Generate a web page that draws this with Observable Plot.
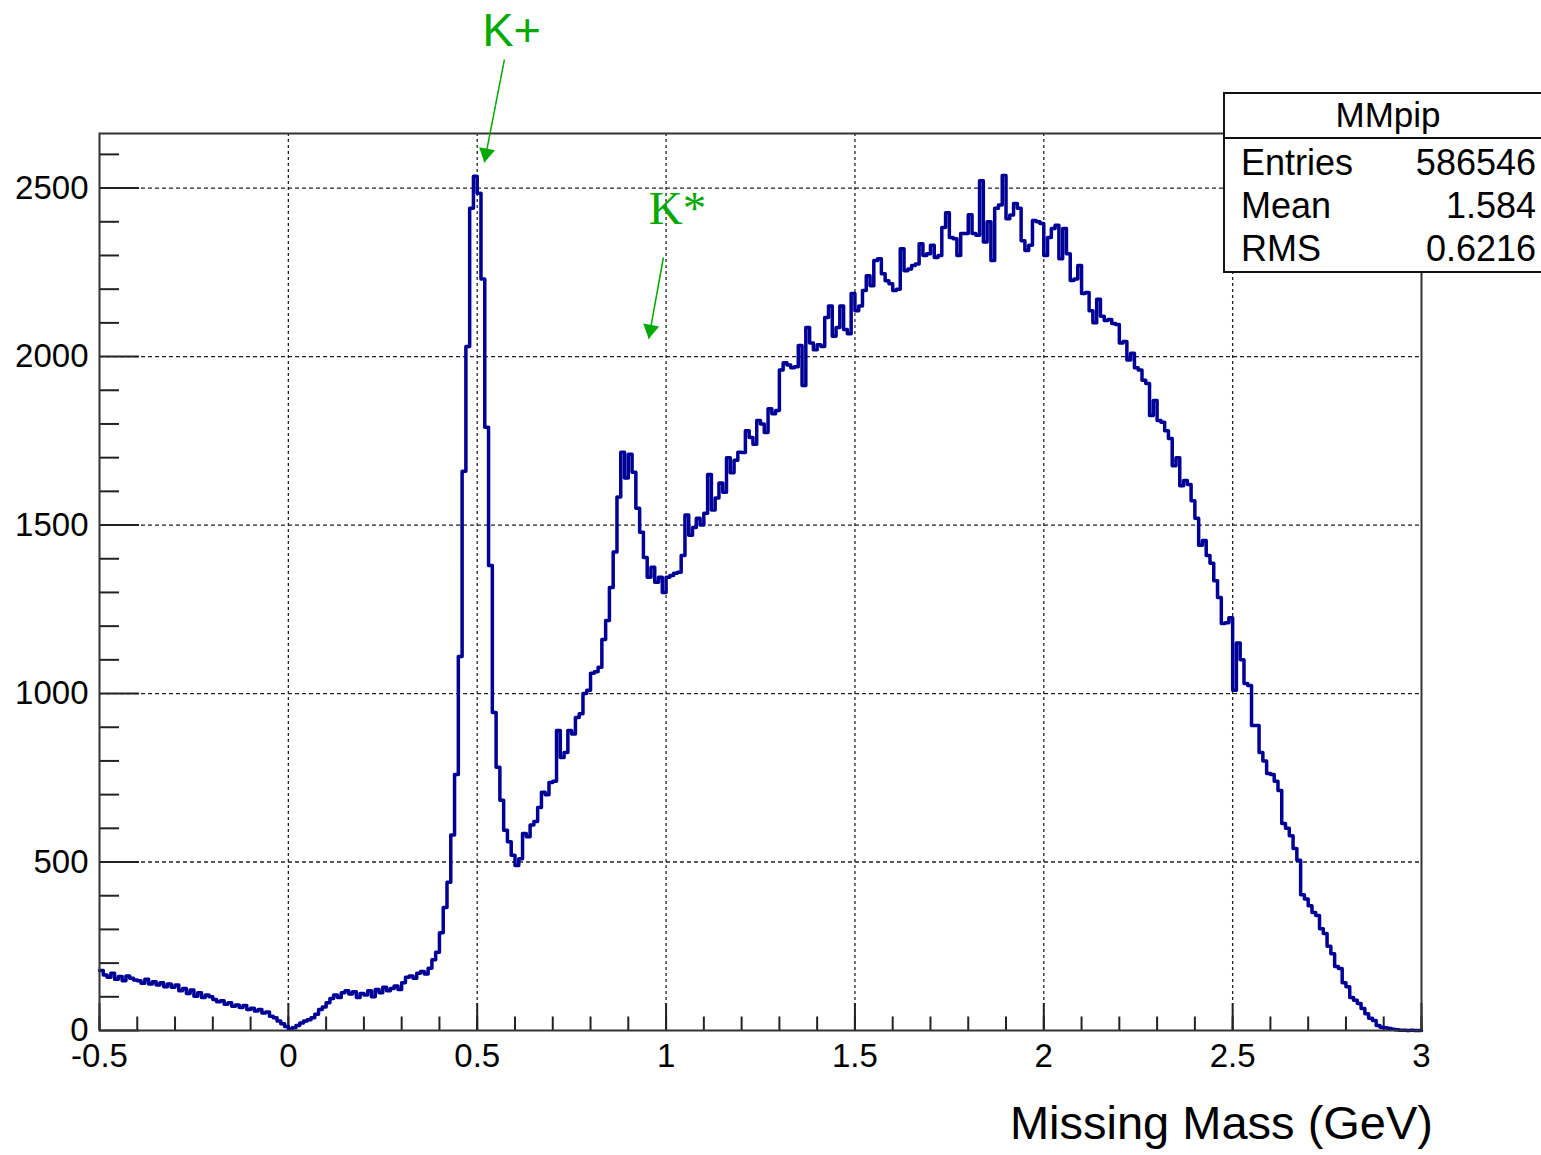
<!DOCTYPE html>
<html><head><meta charset="utf-8">
<script src="https://cdn.jsdelivr.net/npm/d3@7"></script>
<script src="https://cdn.jsdelivr.net/npm/@observablehq/plot@0.6"></script>
<style>
html,body{margin:0;padding:0;background:#fff;overflow:hidden;}
#chart svg{display:block;}
</style></head><body><div id="chart"></div>
<script>
// ---- histogram binning (MMpip: 350 bins from -0.5 to 3.0) ----
const binLow = -0.5;
const binWidth = 0.01;
const counts = [
  178,165,158,170,152,160,148,162,155,150,
  148,140,152,138,145,135,142,130,138,128,
  135,118,125,110,120,102,112,98,105,100,
  92,85,88,78,82,72,76,68,74,62,
  66,58,62,52,55,42,38,28,20,12,
  4,8,15,22,28,32,38,48,62,70,
  82,95,105,98,112,118,108,115,98,110,
  105,118,100,122,112,128,118,125,132,122,
  142,158,162,155,170,175,168,185,210,232,
  290,365,440,580,760,1110,1660,2030,2440,2535,
  2485,2230,1790,1380,944,781,683,594,560,520,
  490,510,585,575,610,620,662,707,700,736,
  740,890,810,825,890,880,929,940,1000,1010,
  1060,1065,1078,1160,1217,1315,1420,1583,1716,1640,
  1710,1657,1550,1479,1404,1345,1375,1330,1345,1300,
  1345,1350,1357,1360,1410,1530,1470,1493,1520,1500,
  1535,1650,1545,1580,1625,1597,1700,1655,1692,1716,
  1715,1780,1760,1740,1810,1800,1775,1845,1830,1840,
  1960,1982,1975,1967,1970,2033,1914,2086,2040,2020,
  2035,2030,2116,2150,2060,2086,2150,2080,2068,2187,
  2136,2150,2196,2240,2210,2285,2290,2246,2225,2216,
  2196,2200,2320,2255,2260,2270,2275,2335,2300,2305,
  2330,2294,2300,2383,2427,2353,2350,2300,2365,2365,
  2421,2365,2360,2522,2340,2400,2285,2440,2450,2537,
  2409,2420,2454,2440,2344,2315,2330,2404,2400,2395,
  2300,2353,2380,2390,2290,2380,2305,2226,2230,2270,
  2187,2190,2136,2100,2170,2120,2107,2110,2098,2095,
  2040,2045,1990,2010,1967,1960,1930,1920,1825,1870,
  1810,1805,1780,1757,1676,1700,1617,1632,1620,1572,
  1520,1440,1454,1410,1387,1335,1285,1208,1210,1225,
  1010,1150,1100,1030,1024,905,905,825,800,763,
  760,740,712,614,600,578,540,505,403,390,
  370,350,341,302,288,250,228,190,184,142,
  130,98,90,80,65,50,36,30,15,10,
  8,6,4,2,1,1,0,1,0,0
];

// ---- axes ----
const xDomain = [-0.5, 3];
const yDomain = [0, 2662];
const xMajorTicks = [-0.5, 0, 0.5, 1, 1.5, 2, 2.5, 3];
const xTickLabels = ["-0.5", "0", "0.5", "1", "1.5", "2", "2.5", "3"];
const xMinorTicks = [-0.5,-0.4,-0.3,-0.2,-0.1,0,0.1,0.2,0.3,0.4,0.5,0.6,0.7,0.8,0.9,1,1.1,1.2,1.3,1.4,1.5,1.6,1.7,1.8,1.9,2,2.1,2.2,2.3,2.4,2.5,2.6,2.7,2.8,2.9,3];
const yMajorTicks = [0, 500, 1000, 1500, 2000, 2500];
const yTickLabels = ["0", "500", "1000", "1500", "2000", "2500"];
const yMinorTicks = [100,200,300,400,600,700,800,900,1100,1200,1300,1400,1600,1700,1800,1900,2100,2200,2300,2400,2600];
const xGrid = [0, 0.5, 1, 1.5, 2, 2.5];
const yGrid = [500, 1000, 1500, 2000, 2500];
const xTitle = "Missing Mass (GeV)";

// ---- annotations (data coordinates) ----
const annLabels = ["K+", "K*"];
const annTextX = [0.591, 1.030];
const annTextY = [2967, 2439];
const annArrowX1 = [0.572, 0.993];
const annArrowY1 = [2881, 2294];
const annArrowX2 = [0.519, 0.954];
const annArrowY2 = [2576, 2053];

// ---- statistics box ----
const statsTitle = "MMpip";
const statsNames = ["Entries", "Mean", "RMS"];
const statsValues = ["586546", "1.584", "0.6216"];

// build tables
const hist = counts.map((c, i) => ({x: Math.round((binLow + i * binWidth) * 1000) / 1000, y: c}));
hist.push({x: xDomain[1], y: counts[counts.length - 1]});
const ann = annLabels.map((l, i) => ({label: l, tx: annTextX[i], ty: annTextY[i],
  x1: annArrowX1[i], y1: annArrowY1[i], x2: annArrowX2[i], y2: annArrowY2[i]}));

const W = 1541, H = 1155;
const mL = 99, mR = 120, mT = 133, mB = 125;
const pxPerX = (W - mL - mR) / (xDomain[1] - xDomain[0]);
const pxPerY = (H - mT - mB) / (yDomain[1] - yDomain[0]);
// tick lengths in pixels converted to data units
const xMinorLen = 13.5 / pxPerY, xMajorLen = 27 / pxPerY;
const yMinorLen = 20 / pxPerX, yMajorLen = 40 / pxPerX;

const green = "#00a900";
// arrowhead rotation from arrow direction (in pixel space)
ann.forEach(a => {
  const dx = (a.x2 - a.x1) * pxPerX, dy = -(a.y2 - a.y1) * pxPerY;
  const len = Math.hypot(dx, dy);
  a.rot = Math.atan2(dx, -dy) * 180 / Math.PI;
  a.ox = -dx / len * 9.3; a.oy = -dy / len * 9.3;
});

const chart = Plot.plot({
  width: W, height: H,
  marginLeft: mL, marginRight: mR, marginTop: mT, marginBottom: mB,
  x: {domain: xDomain},
  y: {domain: yDomain},
  style: {fontFamily: "'Liberation Sans', Arial, Helvetica, sans-serif", fontSize: "33px", color: "#000", background: "#fff", overflow: "visible"},
  marks: [
    Plot.ruleX(xGrid, {stroke: "#222", strokeWidth: 1.3, strokeDasharray: "3,3"}),
    Plot.ruleY(yGrid, {stroke: "#222", strokeWidth: 1.3, strokeDasharray: "4,3"}),
    Plot.ruleX(xMinorTicks, {y1: 0, y2: xMinorLen, stroke: "#222", strokeWidth: 2}),
    Plot.ruleX(xMajorTicks, {y1: 0, y2: xMajorLen, stroke: "#222", strokeWidth: 2}),
    Plot.ruleY(yMinorTicks, {x1: xDomain[0], x2: xDomain[0] + yMinorLen, stroke: "#222", strokeWidth: 2}),
    Plot.ruleY(yMajorTicks, {x1: xDomain[0], x2: xDomain[0] + yMajorLen, stroke: "#222", strokeWidth: 2}),
    Plot.line(hist, {x: "x", y: "y", curve: "step-after", stroke: "#000096", strokeWidth: 3.5}),
    Plot.frame({stroke: "#333", strokeWidth: 2}),
    Plot.axisX({ticks: xMajorTicks, tickSize: 0, tickPadding: 13, label: null,
      tickFormat: d => xTickLabels[xMajorTicks.indexOf(d)], fontSize: 33, stroke: "#000", strokeWidth: 0.4}),
    Plot.axisY({ticks: yMajorTicks, tickSize: 0, tickPadding: 11, label: null,
      tickFormat: d => yTickLabels[yMajorTicks.indexOf(d)], fontSize: 33, stroke: "#000", strokeWidth: 0.4}),
    Plot.link(ann, {x1: "x1", y1: "y1", x2: "x2", y2: "y2", stroke: green, strokeWidth: 1.5, clip: false}),
    Plot.dot(ann, {x: "x2", y: "y2", symbol: "triangle", r: 6, fill: green, stroke: null, clip: false,
      render: (index, scales, values, dims, ctx, next) => {
        const g = next(index, scales, values, dims, ctx);
        d3.select(g).selectAll("path").each(function(d, j) {
          const i = index[j];
          const a = ann[i];
          d3.select(this).attr("transform", `translate(${values.x[i] + a.ox},${values.y[i] + a.oy}) rotate(${a.rot})`);
        });
        return g;
      }}),
    Plot.text([ann[0]], {x: "tx", y: "ty", text: "label", fill: green, fontSize: 47,
      fontFamily: "'Liberation Sans', Arial, sans-serif", clip: false}),
    Plot.text([ann[1]], {x: "tx", y: "ty", text: "label", fill: green, fontSize: 47,
      fontFamily: "'Liberation Serif', 'Times New Roman', serif", clip: false})
  ]
});
document.getElementById("chart").appendChild(chart);

// axis title and statistics box (overlay on the same SVG)
const svg = d3.select(chart);
svg.append("text").attr("x", 1433).attr("y", 1139).attr("text-anchor", "end")
  .attr("font-size", 47).attr("fill", "#000").text(xTitle);
const sb = svg.append("g").attr("font-family", "'Liberation Sans', Arial, sans-serif").attr("fill", "#000");
sb.append("rect").attr("x", 1224).attr("y", 93).attr("width", 330).attr("height", 179)
  .attr("fill", "#fff").attr("stroke", "#111").attr("stroke-width", 2);
sb.append("line").attr("x1", 1224).attr("x2", 1554).attr("y1", 138).attr("y2", 138)
  .attr("stroke", "#111").attr("stroke-width", 2);
sb.append("text").attr("x", 1388).attr("y", 127).attr("text-anchor", "middle")
  .attr("font-size", 35).text(statsTitle);
const baselines = [175, 218, 261];
statsNames.forEach((n, i) => {
  sb.append("text").attr("x", 1241).attr("y", baselines[i]).attr("text-anchor", "start")
    .attr("font-size", 36).text(n);
  sb.append("text").attr("x", 1536).attr("y", baselines[i]).attr("text-anchor", "end")
    .attr("font-size", 36).text(statsValues[i]);
});
</script></body></html>
